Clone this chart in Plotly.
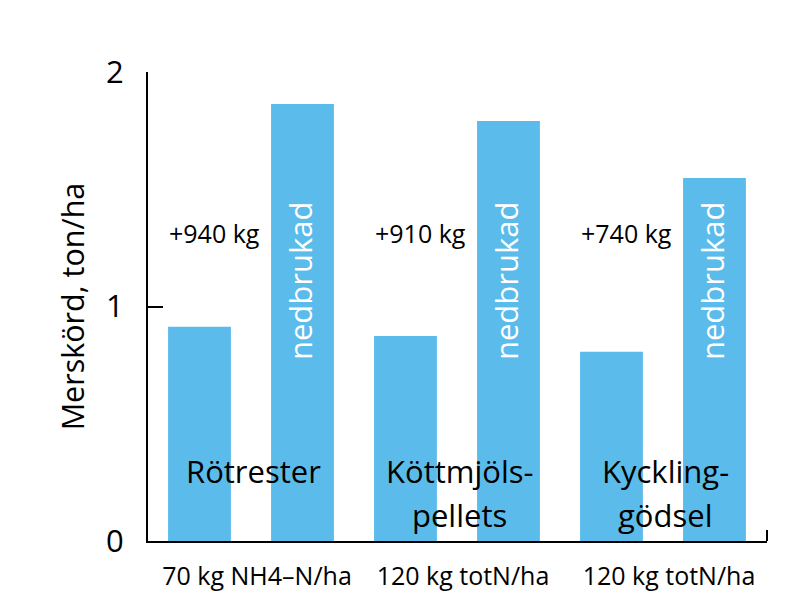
import plotly.graph_objects as go

categories = ["Rötrester", "Köttmjölspellets", "Kycklinggödsel"]
label_line1 = ["Rötrester", "Köttmjöls-", "Kyckling-"]
label_line2 = ["", "pellets", "gödsel"]
n_labels = ["70 kg NH4–N/ha", "120 kg totN/ha", "120 kg totN/ha"]
yield_surface = [0.914, 0.874, 0.807]
yield_incorporated = [1.864, 1.791, 1.548]
gain_labels = ["+940 kg", "+910 kg", "+740 kg"]
inc_label = "nedbrukad"

BAR = "#5bbbeb"
FONT = "Open Sans"

fig = go.Figure()
fig.add_trace(go.Bar(x=categories, y=yield_surface, marker_color=BAR,
                     marker_line_width=0, showlegend=False))
fig.add_trace(go.Bar(x=categories, y=yield_incorporated, marker_color=BAR,
                     marker_line_width=0, showlegend=False))

ann = []
for i in range(len(categories)):
    ann.append(dict(x=i - 0.175, y=1.315, xref="x", yref="y", text=gain_labels[i],
                    showarrow=False, font=dict(size=25, color="black", family=FONT)))
    ann.append(dict(x=i + 0.235, y=1.11, xref="x", yref="y", text=inc_label,
                    textangle=-90, showarrow=False,
                    font=dict(size=31, color="white", family=FONT)))
    ann.append(dict(x=i + 0.01, y=0.30, xref="x", yref="y", text=label_line1[i],
                    showarrow=False, font=dict(size=31, color="black", family=FONT)))
    if label_line2[i]:
        ann.append(dict(x=i + 0.01, y=0.112, xref="x", yref="y", text=label_line2[i],
                        showarrow=False, font=dict(size=31, color="black", family=FONT)))

fig.update_layout(
    width=811, height=605,
    margin=dict(l=148, r=44, t=72, b=64),
    paper_bgcolor="white", plot_bgcolor="white",
    barmode="group", bargap=0.0, bargroupgap=0.39,
    font=dict(family=FONT, color="black"),
    annotations=ann,
    shapes=[dict(type="line", xref="paper", yref="paper", x0=1, x1=1,
                 y0=0, y1=11 / 469, line=dict(color="black", width=2))],
    xaxis=dict(range=[-0.5, 2.505], showline=True, linecolor="black", linewidth=2,
               tickvals=categories, ticktext=n_labels, ticks="",
               tickfont=dict(size=25, family=FONT), showgrid=False,
               ticklabelstandoff=12, ticklabelshift=6),
    yaxis=dict(range=[0, 2], showline=True, linecolor="black", linewidth=2,
               tickvals=[0, 1, 2], ticks="inside", ticklen=15, tickwidth=2,
               tickcolor="black", showgrid=False, zeroline=False,
               tickfont=dict(size=31, family=FONT), ticklabelstandoff=16,
               title=dict(text="Merskörd, ton/ha", font=dict(size=30.5, family=FONT),
                          standoff=12)),
)

fig.write_html("out.html")
